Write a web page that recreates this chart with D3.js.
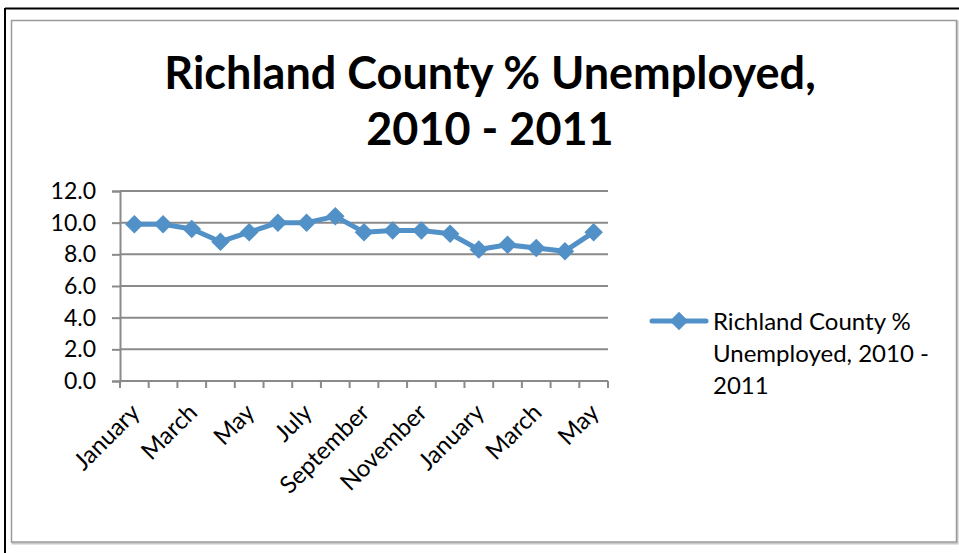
<!DOCTYPE html>
<html>
<head>
<meta charset="utf-8">
<script src="https://cdn.jsdelivr.net/npm/d3@7"></script>
<style>
  html, body { margin: 0; padding: 0; background: #fff; }
  svg { display: block; }
  text { font-family: Lato, "Open Sans", "DejaVu Sans", sans-serif; fill: #000; }
</style>
</head>
<body>
<svg id="chart" width="959" height="553"></svg>
<script>
// Monthly categories, January 2010 through May 2011
const months = ["January", "February", "March", "April", "May", "June", "July", "August",
                "September", "October", "November", "December",
                "January", "February", "March", "April", "May"];
// Percent unemployed for each month
const unemployed = [9.9, 9.9, 9.6, 8.8, 9.4, 10.0, 10.0, 10.4, 9.4, 9.5, 9.5, 9.3,
                    8.3, 8.6, 8.4, 8.2, 9.4];
const yTicks = [0, 2, 4, 6, 8, 10, 12];
const titleLines = ["Richland County % Unemployed,", "2010 - 2011"];
const legendLines = ["Richland County %", "Unemployed, 2010 -", "2011"];

const svg = d3.select("#chart");
const blue = "#5291c7";
const gridGray = "#8a8a8a";

// Outer frame (top and left edges visible) and the chart-area box with a soft shadow
svg.append("line").attr("x1", 5).attr("y1", 8.5).attr("x2", 959).attr("y2", 8.5)
  .attr("stroke", "#000").attr("stroke-width", 2);
svg.append("line").attr("x1", 5).attr("y1", 8).attr("x2", 5).attr("y2", 553)
  .attr("stroke", "#000").attr("stroke-width", 2);
svg.append("rect").attr("x", 12.5).attr("y", 21.5).attr("width", 945).attr("height", 522)
  .attr("fill", "none").attr("stroke", "#c8c8c8").attr("stroke-width", 2);
svg.append("rect").attr("x", 11.5).attr("y", 20.5).attr("width", 945).attr("height", 521.5)
  .attr("fill", "#fff").attr("stroke", "#9a9a9a").attr("stroke-width", 1.5);

// Title
const title = svg.append("text").attr("text-anchor", "middle")
  .style("font-weight", "bold").style("font-size", "45px");
titleLines.forEach((t, i) => {
  title.append("tspan").attr("x", 490).attr("y", 89 + i * 56).text(t);
});

// Scales
const x = d3.scaleBand().domain(d3.range(months.length)).range([120, 608]).padding(0);
const y = d3.scaleLinear().domain([0, 12]).range([381, 191]);

// Horizontal gridlines
svg.append("g").selectAll("line").data(yTicks.filter(v => v > 0)).join("line")
  .attr("x1", 120).attr("x2", 608)
  .attr("y1", d => y(d)).attr("y2", d => y(d))
  .attr("stroke", gridGray).attr("stroke-width", 2);

// Value axis
const yAxis = svg.append("g").attr("transform", "translate(120,0)")
  .call(d3.axisLeft(y).tickValues(yTicks).tickFormat(d3.format(".1f")).tickSize(8).tickPadding(16));
yAxis.select(".domain").attr("stroke", gridGray).attr("stroke-width", 2);
yAxis.selectAll(".tick line").attr("stroke", gridGray).attr("stroke-width", 2);
yAxis.selectAll(".tick text").style("font-size", "23px").attr("fill", "#000")
  .style("font-family", "Lato, 'Open Sans', sans-serif");

// Category axis: line along zero, tick marks on band boundaries
const bounds = x.domain().map(i => x(i)).concat([x.range()[1]]);
const xg = svg.append("g");
xg.append("line").attr("x1", x.range()[0]).attr("x2", x.range()[1])
  .attr("y1", y(0)).attr("y2", y(0)).attr("stroke", gridGray).attr("stroke-width", 2);
xg.selectAll("line.tick").data(bounds).join("line").attr("class", "tick")
  .attr("x1", d => d).attr("x2", d => d)
  .attr("y1", y(0)).attr("y2", y(0) + 7)
  .attr("stroke", gridGray).attr("stroke-width", 2);

// Every second month is labelled, rotated 45 degrees
xg.selectAll("text").data(months.map((m, i) => ({ m, i })).filter(d => d.i % 2 === 0)).join("text")
  .attr("transform", d => `translate(${x(d.i) + x.bandwidth() / 2 + 1},${y(0) + 27}) rotate(-45)`)
  .attr("text-anchor", "end").attr("dy", "0.35em")
  .style("font-size", "24px")
  .text(d => d.m);

// Series line and diamond markers
const cx = i => x(i) + x.bandwidth() / 2;
const line = d3.line().x((d, i) => cx(i)).y(d => y(d));
svg.append("path").datum(unemployed).attr("d", line)
  .attr("fill", "none").attr("stroke", blue).attr("stroke-width", 5)
  .attr("stroke-linejoin", "round");

const diamond = d3.symbol().type(d3.symbolDiamond2).size(220);
svg.append("g").selectAll("path").data(unemployed).join("path")
  .attr("d", diamond)
  .attr("transform", (d, i) => `translate(${cx(i)},${y(d)})`)
  .attr("fill", blue);

// Legend
const lg = svg.append("g").attr("transform", "translate(652,321)");
lg.append("line").attr("x1", 0).attr("x2", 54).attr("y1", 0).attr("y2", 0)
  .attr("stroke", blue).attr("stroke-width", 5).attr("stroke-linecap", "round");
lg.append("path").attr("d", diamond).attr("transform", "translate(27,0)").attr("fill", blue);
const lt = lg.append("text").style("font-size", "24px");
legendLines.forEach((t, i) => {
  lt.append("tspan").attr("x", 61).attr("y", 9 + i * 32).text(t);
});
</script>
</body>
</html>
